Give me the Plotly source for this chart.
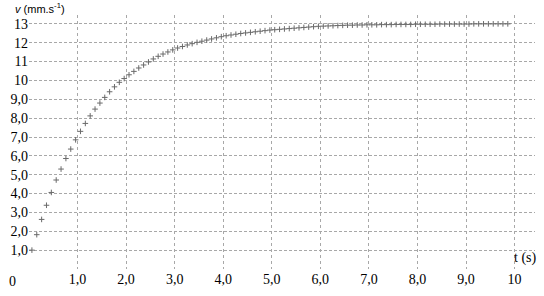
import plotly.graph_objects as go

# time samples (s)
t_s = [0.06, 0.16, 0.26, 0.36, 0.46, 0.56, 0.66, 0.76, 0.86, 0.96,
       1.06, 1.16, 1.26, 1.36, 1.46, 1.56, 1.66, 1.76, 1.86, 1.96,
       2.06, 2.16, 2.26, 2.36, 2.46, 2.56, 2.66, 2.76, 2.86, 2.96,
       3.06, 3.16, 3.26, 3.36, 3.46, 3.56, 3.66, 3.76, 3.86, 3.96,
       4.06, 4.16, 4.26, 4.36, 4.46, 4.56, 4.66, 4.76, 4.86, 4.96,
       5.06, 5.16, 5.26, 5.36, 5.46, 5.56, 5.66, 5.76, 5.86, 5.96,
       6.06, 6.16, 6.26, 6.36, 6.46, 6.56, 6.66, 6.76, 6.86, 6.96,
       7.06, 7.16, 7.26, 7.36, 7.46, 7.56, 7.66, 7.76, 7.86, 7.96,
       8.06, 8.16, 8.26, 8.36, 8.46, 8.56, 8.66, 8.76, 8.86, 8.96,
       9.06, 9.16, 9.26, 9.36, 9.46, 9.56, 9.66, 9.76, 9.86]

# speed (mm/s)
v_mm = [1.00, 1.82, 2.63, 3.38, 4.06, 4.72, 5.30, 5.86, 6.36, 6.85,
        7.30, 7.72, 8.12, 8.48, 8.80, 9.10, 9.40, 9.66, 9.90, 10.10,
        10.30, 10.48, 10.66, 10.82, 10.98, 11.14, 11.28, 11.40, 11.51, 11.62,
        11.72, 11.80, 11.88, 11.95, 12.02, 12.08, 12.14, 12.20, 12.26, 12.32,
        12.37, 12.41, 12.45, 12.49, 12.52, 12.55, 12.58, 12.61, 12.64, 12.67,
        12.69, 12.71, 12.73, 12.75, 12.77, 12.79, 12.81, 12.83, 12.85, 12.87,
        12.88, 12.89, 12.90, 12.91, 12.92, 12.93, 12.93, 12.94, 12.94, 12.95,
        12.95, 12.95, 12.96, 12.96, 12.96, 12.97, 12.97, 12.97, 12.97, 12.98,
        12.98, 12.98, 12.98, 12.98, 12.99, 12.99, 12.99, 12.99, 12.99, 12.99,
        12.99, 13.00, 13.00, 13.00, 13.00, 13.00, 13.00, 13.00, 13.00]

x_ticks = [1, 2, 3, 4, 5, 6, 7, 8, 9, 10]
x_labels = ["1,0", "2,0", "3,0", "4,0", "5,0", "6,0", "7,0", "8,0", "9,0", "10"]
y_ticks = [1, 2, 3, 4, 5, 6, 7, 8, 9, 10, 11, 12, 13]
y_labels = ["1,0", "2,0", "3,0", "4,0", "5,0", "6,0", "7,0", "8,0", "9,0",
            "10", "11", "12", "13"]

FONT = "Liberation Serif"
XMAX = 10.42
YMAX = 13.47
TXT = "#000000"

fig = go.Figure()
fig.add_trace(go.Scatter(
    x=t_s, y=v_mm, mode="markers",
    marker=dict(symbol="cross-thin", size=4, line=dict(width=1, color="#6a6a6a")),
    showlegend=False, cliponaxis=False,
))

fig.update_xaxes(
    range=[0, XMAX], tickmode="array", tickvals=x_ticks, ticktext=x_labels,
    showgrid=True, gridcolor="#a8a8a8", gridwidth=1, griddash="dot",
    zeroline=False, showline=False, ticks="", ticklen=0,
    tickfont=dict(family=FONT, size=14, color=TXT),
)
fig.update_yaxes(
    range=[0, YMAX], tickmode="array", tickvals=y_ticks, ticktext=y_labels,
    showgrid=True, gridcolor="#a8a8a8", gridwidth=1, griddash="3px,2px",
    zeroline=False, showline=False, ticks="", ticklen=0,
    tickfont=dict(family=FONT, size=14, color=TXT),
)

# axes with arrows
fig.add_annotation(x=XMAX + 0.02, y=0, ax=-0.02, ay=0, xref="x", yref="y",
                   axref="x", ayref="y", showarrow=True, arrowhead=2,
                   arrowsize=0.8, arrowwidth=2, arrowcolor="#8a8a8a", text="")
fig.add_annotation(x=0, y=YMAX + 0.05, ax=0, ay=-0.1, xref="x", yref="y",
                   axref="x", ayref="y", showarrow=True, arrowhead=2,
                   arrowsize=0.8, arrowwidth=1.2, arrowcolor="#999999", text="")

fig.add_annotation(x=0, y=0, xref="x", yref="y", text="0", showarrow=False,
                   xanchor="right", yanchor="top", xshift=-11, yshift=-3,
                   font=dict(family=FONT, size=14, color=TXT))
fig.add_annotation(x=10.0, y=0, xref="x", yref="y", text="t (s)", showarrow=False,
                   xanchor="left", yanchor="bottom", xshift=-3, yshift=1,
                   font=dict(family=FONT, size=14, color=TXT))
fig.add_annotation(x=0, y=1, xref="paper", yref="paper",
                   text="<i>v</i> (mm.s<sup>-1</sup>)", showarrow=False,
                   xanchor="left", yanchor="bottom", xshift=-16, yshift=-2,
                   font=dict(family="Liberation Sans", size=11, color=TXT))

fig.update_layout(
    width=544, height=296,
    margin=dict(l=29, r=9, t=15, b=23),
    paper_bgcolor="white", plot_bgcolor="white",
    font=dict(family=FONT, color=TXT),
)

fig.write_html("out.html")
